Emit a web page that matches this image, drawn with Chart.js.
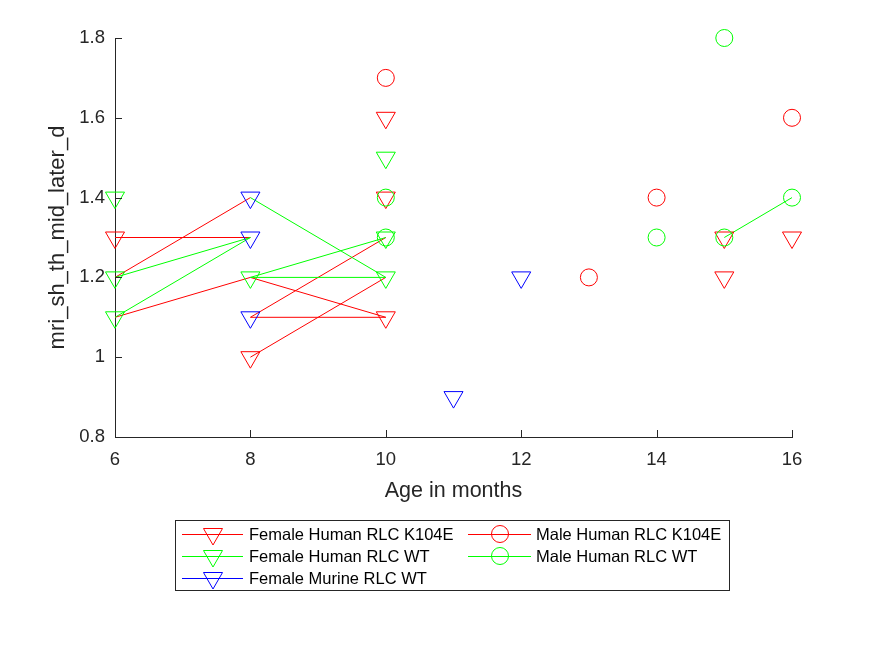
<!DOCTYPE html>
<html>
<head>
<meta charset="utf-8">
<script src="https://cdn.jsdelivr.net/npm/chart.js@4.4.0/dist/chart.umd.min.js"></script>
<style>
  html, body { margin: 0; padding: 0; background: #fff; }
  canvas { display: block; }
</style>
</head>
<body>
<canvas id="myChart" width="875" height="656"></canvas>
<script>
// axis ticks
var xTicks = [6, 8, 10, 12, 14, 16];
var yTicks = [0.8, 1, 1.2, 1.4, 1.6, 1.8];

// lines joining the same animal over time, null = break
var redLineAge = [6, 8, null, 6, 8, null, 6, 8, 10, null, 8, 10, null, 8, 10, null, 8, 10];
var redLineVal = [1.3, 1.3, null, 1.2, 1.4, null, 1.1, 1.2, 1.1, null, 1.1, 1.3, null, 1.1, 1.1, null, 1.0, 1.2];
var greenLineAge = [6, 8, null, 6, 8, null, 8, 10, null, 8, 10, null, 8, 10, null, 15, 16];
var greenLineVal = [1.2, 1.3, null, 1.1, 1.3, null, 1.4, 1.2, null, 1.2, 1.3, null, 1.2, 1.2, null, 1.3, 1.4];

// markers
// Female Human RLC K104E
var femK104eAge = [6, 8, 10, 10, 10, 15, 15, 16];
var femK104eVal = [1.3, 1.0, 1.6, 1.4, 1.1, 1.3, 1.2, 1.3];
// Female Human RLC WT
var femWtAge = [6, 6, 6, 8, 10, 10, 10];
var femWtVal = [1.4, 1.2, 1.1, 1.2, 1.5, 1.3, 1.2];
// Female Murine RLC WT
var femMurAge = [8, 8, 8, 11, 12];
var femMurVal = [1.4, 1.3, 1.1, 0.9, 1.2];
// Male Human RLC K104E
var maleK104eAge = [10, 13, 14, 16];
var maleK104eVal = [1.7, 1.2, 1.4, 1.6];
// Male Human RLC WT
var maleWtAge = [10, 10, 14, 15, 15, 16];
var maleWtVal = [1.4, 1.3, 1.3, 1.8, 1.3, 1.4];

var axisColor = "#262626";
var fontFam = "'Liberation Sans', Arial, Helvetica, sans-serif";

function toPoints(ages, vals) {
  return ages.map(function (a, i) { return {x: a, y: vals[i]}; });
}

function track(ages, vals, color, order) {
  return {
    label: "",
    isTrack: true,
    data: toPoints(ages, vals),
    borderColor: color,
    borderWidth: 1,
    showLine: true,
    spanGaps: false,
    pointRadius: 0,
    pointHoverRadius: 0,
    clip: false,
    order: order
  };
}

function markers(label, ages, vals, color, style, order) {
  var tri = style === "triangle";
  return {
    label: label,
    data: toPoints(ages, vals),
    borderColor: color,
    showLine: false,
    pointStyle: style,
    rotation: tri ? 180 : 0,
    pointRadius: tri ? 11 : 8.5,
    pointHoverRadius: tri ? 11 : 8.5,
    pointBorderColor: color,
    pointBackgroundColor: "rgba(0,0,0,0)",
    pointBorderWidth: 1,
    clip: false,
    order: order
  };
}

// legend slots [col, row], in legend order
var legendSlots = [[0, 0], [0, 1], [0, 2], [1, 0], [1, 1]];

var matlabExtras = {
  id: "matlabExtras",
  afterDraw: function (chart) {
    var ctx = chart.ctx, a = chart.chartArea;
    var xs = chart.scales.x, ys = chart.scales.y;
    ctx.save();
    // inward tick marks
    ctx.strokeStyle = axisColor;
    ctx.lineWidth = 1;
    ctx.beginPath();
    xTicks.forEach(function (v) {
      var px = Math.round(xs.getPixelForValue(v)) + 0.5;
      ctx.moveTo(px, a.bottom);
      ctx.lineTo(px, a.bottom - 7);
    });
    yTicks.forEach(function (v) {
      var py = Math.round(ys.getPixelForValue(v)) + 0.5;
      ctx.moveTo(a.left, py);
      ctx.lineTo(a.left + 7, py);
    });
    ctx.stroke();

    // legend box
    ctx.strokeRect(175.5, 520.5, 554, 70);
    var cols = [{l1: 182, l2: 243, m: 213, t: 249}, {l1: 468, l2: 531, m: 500, t: 536}];
    var rows = [534, 556, 578];
    ctx.font = "16.5px " + fontFam;
    ctx.textBaseline = "middle";
    ctx.textAlign = "left";
    var k = 0;
    chart.data.datasets.forEach(function (ds) {
      if (ds.isTrack) return;
      var c = cols[legendSlots[k][0]], y = rows[legendSlots[k][1]];
      k++;
      ctx.strokeStyle = ds.borderColor;
      ctx.beginPath();
      ctx.moveTo(c.l1, y + 0.5);
      ctx.lineTo(c.l2, y + 0.5);
      ctx.stroke();
      ctx.beginPath();
      if (ds.pointStyle === "triangle") {
        var r = ds.pointRadius;
        ctx.moveTo(c.m, y + r);
        ctx.lineTo(c.m - r * 0.866, y - r / 2);
        ctx.lineTo(c.m + r * 0.866, y - r / 2);
        ctx.closePath();
      } else {
        ctx.arc(c.m, y, ds.pointRadius, 0, Math.PI * 2);
      }
      ctx.stroke();
      ctx.fillStyle = "#000";
      ctx.fillText(ds.label, c.t, y + 1);
    });
    ctx.restore();
  }
};

new Chart("myChart", {
  type: "scatter",
  data: {
    datasets: [
      track(redLineAge, redLineVal, "#ff0000", 7),
      track(greenLineAge, greenLineVal, "#00ff00", 6),
      markers("Female Human RLC K104E", femK104eAge, femK104eVal, "#ff0000", "triangle", 5),
      markers("Female Human RLC WT", femWtAge, femWtVal, "#00ff00", "triangle", 4),
      markers("Female Murine RLC WT", femMurAge, femMurVal, "#0000ff", "triangle", 3),
      markers("Male Human RLC K104E", maleK104eAge, maleK104eVal, "#ff0000", "circle", 2),
      markers("Male Human RLC WT", maleWtAge, maleWtVal, "#00ff00", "circle", 1)
    ]
  },
  options: {
    responsive: false,
    animation: false,
    devicePixelRatio: 1,
    events: [],
    layout: {padding: {left: 0, top: 38, right: 83, bottom: 151}},
    plugins: {
      legend: {display: false},
      tooltip: {enabled: false}
    },
    scales: {
      x: {
        type: "linear",
        min: 6,
        max: 16,
        ticks: {
          stepSize: 2,
          padding: 12,
          maxRotation: 0,
          color: axisColor,
          font: {size: 18.5, family: fontFam}
        },
        grid: {display: false, drawTicks: false},
        border: {display: true, color: axisColor, width: 1},
        title: {
          display: true,
          text: "Age in months",
          color: axisColor,
          font: {size: 21.5, family: fontFam},
          padding: {top: 0, bottom: 1}
        },
        afterFit: function (s) { s.height = 68; }
      },
      y: {
        type: "linear",
        min: 0.8,
        max: 1.8,
        ticks: {
          stepSize: 0.2,
          padding: 10,
          color: axisColor,
          font: {size: 18.5, family: fontFam},
          callback: function (v) { return String(Math.round(v * 10) / 10); }
        },
        grid: {display: false, drawTicks: false},
        border: {display: true, color: axisColor, width: 1},
        title: {
          display: true,
          text: "mri_sh_th_mid_later_d",
          color: axisColor,
          font: {size: 22, family: fontFam},
          padding: {top: 45, bottom: 0}
        },
        afterFit: function (s) { s.width = 115; }
      }
    }
  },
  plugins: [matlabExtras]
});
</script>
</body>
</html>
